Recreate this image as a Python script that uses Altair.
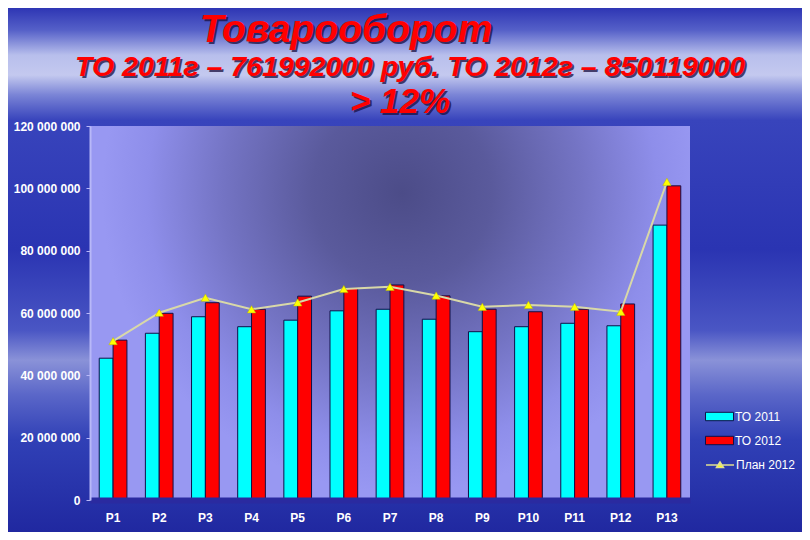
import altair as alt
import pandas as pd

periods = ["P1", "P2", "P3", "P4", "P5", "P6", "P7", "P8", "P9", "P10", "P11", "P12", "P13"]
to2011 = [45.5, 53.5, 58.8, 55.6, 57.7, 60.7, 61.2, 58.0, 54.0, 55.6, 56.7, 55.9, 88.2]
to2012 = [51.3, 59.9, 63.3, 61.2, 65.4, 67.9, 69.0, 65.5, 61.2, 60.4, 61.2, 62.9, 100.8]
plan2012 = [51.0, 60.1, 64.9, 61.2, 63.4, 67.7, 68.4, 65.6, 62.0, 62.6, 62.0, 60.4, 102.1]
series_names = ["ТО 2011", "ТО 2012"]
plan_name = "План 2012"
y_ticks = [0, 20000000, 40000000, 60000000, 80000000, 100000000, 120000000]
title_lines = ["Товарооборот", "ТО 2011г – 761992000 руб. ТО 2012г – 850119000", "> 12%"]

M = 1_000_000
bars_df = pd.DataFrame({
    "period": periods * 2,
    "series": [series_names[0]] * len(periods) + [series_names[1]] * len(periods),
    "value": [v * M for v in to2011] + [v * M for v in to2012],
})
plan_df = pd.DataFrame({"period": periods, "value": [v * M for v in plan2012], "name": plan_name})
one = alt.Data(values=[{"k": 1}])

W, H = 600, 374
FONT = "Liberation Sans"

x_enc = alt.X("period:N", sort=periods,
              scale=alt.Scale(paddingInner=0.4, paddingOuter=0.2),
              axis=alt.Axis(title=None, labelAngle=0, labelColor="white", labelFontWeight="bold",
                            labelFontSize=12, labelFont=FONT, labelPadding=12, ticks=False,
                            domainColor="#2a2aa0", domainWidth=6, zindex=1))
y_enc = alt.Y("value:Q", scale=alt.Scale(domain=[0, 120 * M], nice=False),
              axis=alt.Axis(title=None, values=y_ticks, grid=False,
                            labelExpr="replace(format(datum.value, ','), regexp(',', 'g'), ' ')",
                            labelColor="white", labelFontWeight="bold", labelFontSize=12, labelFont=FONT,
                            domainColor="#b8b8f8", domainWidth=2, tickColor="#b8b8f8", tickSize=4,
                            labelPadding=6, zindex=1))

def stop(o, c):
    return alt.GradientStop(offset=o, color=c)

bg_grad = alt.LinearGradient(gradient="linear", x1=0, y1=0, x2=0, y2=1, stops=[
    stop(0, "#2e36b4"), stop(0.042, "#5560c8"), stop(0.09, "#b8bfec"), stop(0.128, "#c4c9ef"),
    stop(0.166, "#7a84d6"), stop(0.214, "#3844bc"), stop(0.46, "#2a34b2"), stop(0.615, "#4a56c4"),
    stop(0.672, "#8a92d8"), stop(0.739, "#5a66c8"), stop(0.824, "#3040b6"), stop(1, "#2028a0")])
bg = alt.Chart(one).mark_rect(fill=bg_grad).encode(
    x=alt.value(-82), x2=alt.value(712), y=alt.value(-118), y2=alt.value(406))

plot_grad = alt.RadialGradient(gradient="radial", x1=0.52, y1=0.3, r1=0, x2=0.52, y2=0.3, r2=0.5, stops=[
    stop(0, "#4c4c88"), stop(0.3, "#5a5a9c"), stop(0.6, "#7474c4"), stop(0.85, "#8e8eea"), stop(1, "#9898f2")])
plotbg = alt.Chart(one).mark_rect(fill=plot_grad).encode(
    x=alt.value(0), x2=alt.value(W), y=alt.value(0), y2=alt.value(H))

rect_path = "M-2,-0.6H2V0.6H-2Z"
bars = alt.Chart(bars_df).mark_bar(stroke="#101048", strokeWidth=1, opacity=1).encode(
    x=x_enc, y=y_enc,
    xOffset=alt.XOffset("series:N", sort=series_names, scale=alt.Scale(paddingInner=0, paddingOuter=0)),
    color=alt.Color("series:N", scale=alt.Scale(domain=series_names, range=["#00ffff", "#ff0000"]),
                    legend=alt.Legend(title=None, orient="none", legendX=622, legendY=283,
                                      symbolType=rect_path, symbolSize=196, symbolStrokeColor="#101048",
                                      symbolStrokeWidth=1, labelColor="white", labelFontSize=12,
                                      labelFont=FONT, rowPadding=10, labelOffset=8)))

line = alt.Chart(plan_df).mark_line(color="#d8d8a8", strokeWidth=2).encode(x=x_enc, y=y_enc)
line_path = "M-2,0H2M-0.5,0.35L0,-0.45L0.5,0.35Z"
pts = alt.Chart(plan_df).mark_point(shape="triangle-up", filled=True, stroke="#b8b800",
                                    strokeWidth=0.5, size=70, opacity=1).encode(
    x=x_enc, y=y_enc,
    color=alt.Color("name:N", scale=alt.Scale(domain=[plan_name], range=["#ffff00"]),
                    legend=alt.Legend(title=None, orient="none", legendX=622, legendY=331,
                                      symbolType=line_path, symbolSize=196, symbolFillColor="#ffff00",
                                      symbolStrokeColor="#e0e090", symbolStrokeWidth=1.5, symbolOpacity=1,
                                      labelColor="white", labelFontSize=12, labelFont=FONT, labelOffset=8)))

def title_text(txt, xx, yy, size):
    shadow = alt.Chart(one).mark_text(font=FONT, fontSize=size, fontWeight="bold", fontStyle="italic",
                                      color="#1a1040", opacity=0.75, align="center", baseline="alphabetic").encode(
        x=alt.value(xx + 2), y=alt.value(yy + 2), text=alt.value(txt))
    main = alt.Chart(one).mark_text(font=FONT, fontSize=size, fontWeight="bold", fontStyle="italic",
                                    color="#ff0000", align="center", baseline="alphabetic").encode(
        x=alt.value(xx), y=alt.value(yy), text=alt.value(txt))
    return [shadow, main]

texts = (title_text(title_lines[0], 256, -84, 39) + title_text(title_lines[1], 320, -50, 28.5)
         + title_text(title_lines[2], 310, -13, 35))

chart = alt.layer(bg, plotbg, bars, line, pts, *texts).resolve_scale(
    color="independent").properties(
    width=W, height=H, autosize=alt.AutoSizeParams(type="none"),
    padding={"left": 82, "top": 118, "right": 112, "bottom": 32},
    background="#2a32b0",
).configure_view(stroke=None)

chart.save("out.html", embed_options={"renderer": "svg", "actions": False})
